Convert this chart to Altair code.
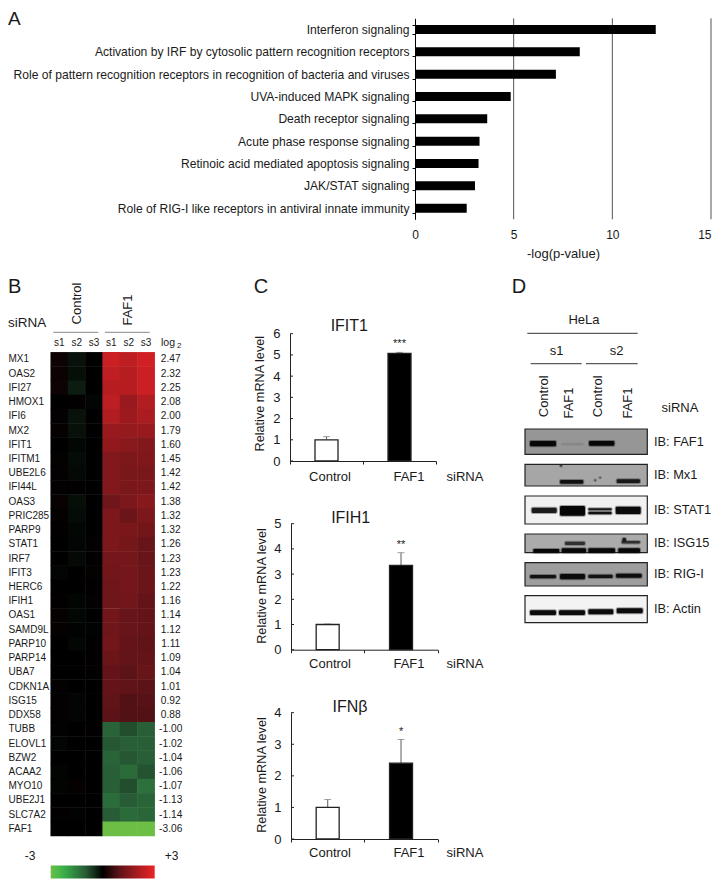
import altair as alt
import pandas as pd

FONT = "Liberation Sans"
W, H = 704, 871
INK = "#1a1a1a"

# ---------- Panel A ----------
path_names = ["Interferon signaling",
              "Activation by IRF by cytosolic pattern recognition receptors",
              "Role of pattern recognition receptors in recognition of bacteria and viruses",
              "UVA-induced MAPK signaling", "Death receptor signaling",
              "Acute phase response signaling", "Retinoic acid mediated apoptosis signaling",
              "JAK/STAT signaling", "Role of RIG-I like receptors in antiviral innate immunity"]
path_vals = [12.2, 8.35, 7.14, 4.85, 3.66, 3.27, 3.22, 3.04, 2.62]
a_ticks = [0, 5, 10, 15]
a_grid = [5, 10, 15]

# ---------- Panel B ----------
genes = ["MX1", "OAS2", "IFI27", "HMOX1", "IFI6", "MX2", "IFIT1", "IFITM1", "UBE2L6", "IFI44L",
         "OAS3", "PRIC285", "PARP9", "STAT1", "IRF7", "IFIT3", "HERC6", "IFIH1", "OAS1", "SAMD9L",
         "PARP10", "PARP14", "UBA7", "CDKN1A", "ISG15", "DDX58", "TUBB", "ELOVL1", "BZW2", "ACAA2",
         "MYO10", "UBE2J1", "SLC7A2", "FAF1"]
log2_vals = [2.47, 2.32, 2.25, 2.08, 2.00, 1.79, 1.60, 1.45, 1.42, 1.42, 1.38, 1.32, 1.32, 1.26, 1.23,
             1.23, 1.22, 1.16, 1.14, 1.12, 1.11, 1.09, 1.04, 1.01, 0.92, 0.88, -1.00, -1.02, -1.04,
             -1.06, -1.07, -1.13, -1.14, -3.06]
ctrl_s1 = [.15, .12, .15, 0, .03, .05, 0, .04, .03, .03, .08, .04, .02, 0, 0, -.05, 0, .02, .06, .05,
           0, 0, 0, .03, .03, .03, -.02, -.05, 0, -.04, -.04, 0, .02, 0]
ctrl_s2 = [-.2, -.15, -.3, .02, -.2, -.18, -.08, -.12, -.1, .02, -.15, -.12, -.08, -.05, -.1, 0, 0, -.06,
           -.08, -.03, -.08, 0, 0, 0, -.05, -.05, 0, 0, 0, 0, .05, 0, -.03, 0]
ctrl_s3 = [0, 0, 0, -.05, 0, 0, 0, 0, 0, 0, 0, 0, 0, .03, .02, .04, .02, .03, 0, -.03,
           .02, .02, .03, 0, 0, 0, .02, 0, 0, 0, 0, 0, 0, 0]
faf_s1 = [2.5, 2.35, 2.2, 2.3, 2.15, 1.8, 1.7, 1.5, 1.5, 1.5, 1.2, 1.4, 1.4, 1.4, 1.3, 1.25, 1.2, 1.2,
          1.25, 1.2, 1.25, 1.15, 1.05, 1.05, 1.0, .95, -1.1, -.95, -1.1, -1.05, -1.05, -1.25, -1.0, -3.0]
faf_s2 = [2.3, 2.2, 2.2, 1.8, 1.85, 1.75, 1.6, 1.4, 1.35, 1.35, 1.4, 1.15, 1.35, 1.3, 1.3, 1.3, 1.3, 1.25,
          1.1, 1.1, 1.05, 1.05, .95, 1.0, .85, .85, -.85, -1.05, -.95, -1.2, -.85, -1.0, -1.2, -3.0]
faf_s3 = [2.6, 2.5, 2.5, 2.15, 2.05, 1.8, 1.5, 1.45, 1.35, 1.4, 1.55, 1.4, 1.25, 1.1, 1.1, 1.15, 1.15, 1.05,
          1.05, 1.05, 1.0, 1.05, 1.1, .95, .9, .85, -1.05, -1.05, -1.05, -.9, -1.3, -1.1, -1.15, -3.0]
sample_ids = ["Cs1", "Cs2", "Cs3", "Fs1", "Fs2", "Fs3"]
sample_cols = [ctrl_s1, ctrl_s2, ctrl_s3, faf_s1, faf_s2, faf_s3]
heat_stops = [-3, -2.3, -1, 0, 1, 3]
heat_colors = ["#6cbe45", "#39b54a", "#285c36", "#000000", "#601418", "#ed2327"]

# ---------- Panel C ----------
cats = ["Control", "FAF1"]
ifit1_val, ifit1_top = [1.0, 5.07], [1.15, 5.12]
ifih1_val, ifih1_top = [1.0, 3.35], [1.02, 3.85]
ifnb_val, ifnb_top = [1.0, 2.4], [1.25, 3.15]

# ---------- Panel D (gel coordinates, read from the blots) ----------
blot_names = ["FAF1", "Mx1", "STAT1", "ISG15", "RIG-I", "Actin"]
blot_top = [429, 464.3, 496, 534, 562.7, 595.7]
blot_bottom = [454.3, 486, 524, 552.7, 586, 622.7]
blot_shade = [.62, .68, .95, .70, .65, .96]
band_x0 = [530, 561.7, 589, 560, 616.7, 560.2, 594.5, 599.5, 531.7, 560, 588.3, 588.3, 615.7,
           533.3, 561.7, 588.3, 618.3, 565, 621.7, 622.5, 530, 560, 588.3, 616, 530, 559, 588.3, 616.7]
band_x1 = [556, 583.3, 614.3, 583.3, 640, 561.8, 595.8, 600.7, 556.7, 585, 611.7, 611.7, 640.7,
           559.3, 586, 615, 640, 585, 640, 626, 556, 585, 612.7, 641.7, 556, 585, 613.3, 642.7]
band_y0 = [441, 443.3, 441, 480, 479.3, 465, 479.5, 477, 507.7, 506, 508.3, 511.7, 506.7,
           549, 548.3, 548.3, 548.3, 541.7, 541, 538, 575, 574, 574.7, 573.7, 610.3, 610.3, 609.3, 608.3]
band_y1 = [446.3, 445, 445.7, 483.7, 483, 466.6, 481, 478.2, 513, 515.7, 510.3, 514.3, 514,
           552.7, 552.7, 552.7, 552.7, 545, 543.5, 542, 578.3, 579.3, 578, 577.7, 615, 615, 614.3, 613.3]
band_shade = [.02, .56, .02, .05, .08, .1, .2, .2, .1, .02, .08, .05, .03,
              .02, .02, .02, .02, .2, .2, .1, .05, .03, .06, .04, .03, .03, .03, .03]

# ---------- helpers ----------
one = alt.Data(values=[{"n": 0}])


def T(s, x, y, size=13, angle=0, align="center", color=INK):
    return alt.Chart(one).mark_text(text=s, font=FONT, fontSize=size, angle=angle, align=align,
                                    baseline="middle", color=color).encode(
        x=alt.value(x - 8), y=alt.value(y - 8))


def L(x0, x1, y, color="#555555"):
    return alt.Chart(one).mark_rule(color=color, strokeWidth=1).encode(
        x=alt.value(x0 - 8), x2=alt.value(x1 - 8), y=alt.value(y - 8))


# ---------- Panel A ----------
ax0, ax1, ay0, ay1 = 415, 711, 18.3, 219.3
a_df = pd.DataFrame({"path": path_names, "v": path_vals})
a_x = alt.Scale(domain=[0, 15], range=[ax0 - 8, ax1 - 8], nice=False)
a_y = alt.Scale(domain=path_names, range=[ay0 - 8, ay1 - 8], paddingInner=0.6, paddingOuter=0.3)
a_x_axis = alt.Axis(
    orient="bottom", offset=(ay1 - 8) - H, values=a_ticks, format="d", domain=False, ticks=False, tickSize=0,
    grid=False, labelPadding=10, labelFont=FONT, labelFontSize=12, labelColor=INK, labelFlush=False,
    labelAlign={"condition": {"test": "datum.value == 15", "value": "right"}, "value": "center"},
    title="-log(p-value)", titleFont=FONT, titleFontSize=13, titleFontWeight="normal", titleColor=INK,
    titlePadding=7)
a_grid_layer = alt.Chart(pd.DataFrame({"g": a_grid})).mark_rule(color="#555555", strokeWidth=1).encode(
    x=alt.X("g:Q", scale=a_x, axis=a_x_axis),
    y=alt.value(ay0 - 8), y2=alt.value(ay1 - 8))
a_bars = alt.Chart(a_df).mark_bar(color="#000000", size=9).encode(
    x=alt.X("v:Q", scale=a_x, axis=a_x_axis),
    y=alt.Y("path:N", sort=path_names, scale=a_y, axis=alt.Axis(
        orient="left", offset=-(ax0 - 8), title=None, tickBand="extent", tickSize=3, tickColor="#000000",
        domainColor="#000000", labelPadding=3, labelFont=FONT, labelFontSize=12.1, labelColor=INK,
        labelLimit=500, grid=False)))
panel_a = alt.layer(a_grid_layer, a_bars)

# ---------- Panel B ----------
hx0, hx1, hy0, hy1 = 50.7, 154.7, 352.3, 836
rows = []
for sid, col in zip(sample_ids, sample_cols):
    for g, v in zip(genes, col):
        rows.append({"sample": sid, "gene": g, "v": v})
h_x = alt.Scale(domain=sample_ids, range=[hx0 - 8, hx1 - 8], paddingInner=0, paddingOuter=0)
h_y = alt.Scale(domain=genes, range=[hy0 - 8, hy1 - 8], paddingInner=0, paddingOuter=0)
h_c = alt.Scale(domain=heat_stops, range=heat_colors, interpolate="rgb")
h_y_axis = alt.Axis(
    orient="left", offset=-(hx0 - 8), title=None, domain=False, ticks=False, tickSize=0,
    labelAlign="left", labelPadding=hx0 - 8, labelFont=FONT, labelFontSize=10, labelColor=INK, grid=False)
heat = alt.Chart(pd.DataFrame(rows)).mark_rect(width=17.8, height=14.7).encode(
    x=alt.X("sample:N", sort=sample_ids, scale=h_x, axis=None),
    y=alt.Y("gene:N", sort=genes, scale=h_y, axis=h_y_axis),
    color=alt.Color("v:Q", scale=h_c, legend=alt.Legend(
        orient="none", legendX=hx0 - 8, legendY=857.5, direction="horizontal", gradientLength=hx1 - hx0,
        gradientThickness=13, title=None, values=[], gradientStrokeWidth=0)))
heat_lab = alt.Chart(pd.DataFrame({"sample": sample_ids, "s": [s[1:] for s in sample_ids]})).mark_text(
    font=FONT, fontSize=10, color=INK, baseline="middle").encode(
    x=alt.X("sample:N", sort=sample_ids, scale=h_x, axis=None),
    y=alt.value(343.3 - 8), text="s:N")
heat_val = alt.Chart(pd.DataFrame({"gene": genes, "l": [f"{v:.2f}" for v in log2_vals]})).mark_text(
    font=FONT, fontSize=10.2, color=INK, baseline="middle").encode(
    x=alt.value(170.7 - 8),
    y=alt.Y("gene:N", sort=genes, scale=h_y, axis=h_y_axis),
    text="l:N")
panel_b = alt.layer(heat, heat_lab, heat_val)


# ---------- Panel C ----------
def bar_panel(vals, tops, stars, ymax, x0, x1, y0, y1):
    df = pd.DataFrame({"cat": cats, "v": vals, "top": tops})
    star_df = pd.DataFrame({"cat": cats[1:], "top": tops[1:], "star": [stars]})
    sx = alt.Scale(domain=cats, range=[x0 - 8, x1 - 8], paddingInner=0, paddingOuter=0)
    sy = alt.Scale(domain=[0, ymax], range=[y0 - 8, y1 - 8], nice=False)
    x_axis = alt.Axis(
        orient="bottom", offset=(y0 - 8) - H, title=None, labels=False, tickBand="extent", tickSize=3,
        tickColor="#222222", domainColor="#222222", grid=False)
    y_axis = alt.Axis(
        orient="left", offset=-(x0 - 8), values=list(range(ymax + 1)), format="d", ticks=False, tickSize=0,
        domainColor="#222222", labelPadding=10, labelFont=FONT, labelFontSize=13, labelColor=INK, grid=False,
        title=None)
    X = alt.X("cat:N", sort=cats, scale=sx, axis=x_axis)
    err = alt.Chart(df).mark_rule(color="#777777", strokeWidth=1.2).encode(
        x=X, y=alt.Y("v:Q", scale=sy, axis=y_axis), y2="top:Q")
    cap = alt.Chart(df).mark_tick(color="#777777", size=7, thickness=1).encode(
        x=X, y=alt.Y("top:Q", scale=sy, axis=y_axis))
    bars = alt.Chart(df).mark_bar(size=23, stroke="#222222", strokeWidth=1.3).encode(
        x=X, y=alt.Y("v:Q", scale=sy, axis=y_axis),
        color=alt.Color("cat:N", scale=alt.Scale(domain=cats, range=["#ffffff", "#000000"]), legend=None))
    tk = alt.Chart(pd.DataFrame({"t": list(range(ymax + 1))})).mark_rule(color="#222222").encode(
        x=alt.value(x0 - 8), x2=alt.value(x0 - 5), y=alt.Y("t:Q", scale=sy, axis=y_axis))
    st = alt.Chart(star_df).mark_text(font=FONT, fontSize=11, dy=-8, color=INK, baseline="middle").encode(
        x=X, y=alt.Y("top:Q", scale=sy, axis=y_axis), text="star:N")
    return alt.layer(err, cap, bars, tk, st)


panel_c1 = bar_panel(ifit1_val, ifit1_top, "***", 6, 290, 436, 461, 333.7)
panel_c2 = bar_panel(ifih1_val, ifih1_top, "**", 5, 291, 437.7, 649.7, 523.7)
panel_c3 = bar_panel(ifnb_val, ifnb_top, "*", 4, 291, 437.7, 839, 712.7)

# ---------- Panel D ----------
gx0, gx1 = 525, 647.3
gy0, gy1 = 429, 622.7
g_x = alt.Scale(domain=[gx0, gx1], range=[gx0 - 8, gx1 - 8], nice=False, zero=False)
g_y = alt.Scale(domain=[gy0, gy1], range=[gy0 - 8, gy1 - 8], nice=False, zero=False)
g_c = alt.Scale(domain=[0, 1], range=["#000000", "#ffffff"])
blot_df = pd.DataFrame({"x0": [gx0] * 6, "x1": [gx1] * 6, "y0": blot_top, "y1": blot_bottom, "s": blot_shade})
band_df = pd.DataFrame({"x0": band_x0, "x1": band_x1, "y0": band_y0, "y1": band_y1, "s": band_shade})
halo_df = band_df.assign(x0=band_df.x0 - 1, x1=band_df.x1 + 1, y0=band_df.y0 - 1, y1=band_df.y1 + 1)


def gel(df, **kw):
    return alt.Chart(df).mark_rect(**kw).encode(
        x=alt.X("x0:Q", scale=g_x, axis=None), x2="x1:Q",
        y=alt.Y("y0:Q", scale=g_y, axis=None), y2="y1:Q",
        color=alt.Color("s:Q", scale=g_c, legend=None))


panel_d = alt.layer(gel(blot_df, stroke="#222222", strokeWidth=1.2),
                    gel(halo_df, opacity=0.35, cornerRadius=2),
                    gel(band_df, cornerRadius=1.5))

# ---------- text and rules ----------
notes = [
    T("A", 8, 18.5, 19, align="left"), T("B", 8, 287, 20, align="left"),
    T("C", 261, 287, 20), T("D", 519, 287, 20),
    T("siRNA", 8, 323.3, 13.5, align="left"),
    T("Control", 76.7, 303.5, 13, angle=270), T("FAF1", 127.7, 310, 13, angle=270),
    L(53.3, 98.3, 332.3, "#888888"), L(105, 149.7, 332.3, "#888888"),
    T("log", 161, 343.3, 10.5, align="left"), T("2", 177, 346, 8, align="left"),
    T("-3", 30, 855.7, 12), T("+3", 171.7, 855.7, 12),
    T("IFIT1", 349.3, 325.7, 16), T("IFIH1", 350.7, 518.3, 16), T("IFNβ", 350, 707.3, 16),
    T("Relative mRNA level", 260, 393.7, 12.7, angle=270),
    T("Relative mRNA level", 262, 586, 12.7, angle=270),
    T("Relative mRNA level", 262, 775, 12.7, angle=270),
]
for yy in (476.7, 663.7, 853.3):
    notes += [T("Control", 330, yy, 13), T("FAF1", 409, yy, 13), T("siRNA", 465, yy, 13)]
notes += [
    T("HeLa", 584, 320, 13), L(527.3, 637.7, 333.3, "#333333"),
    T("s1", 556.7, 351, 13), T("s2", 616.7, 351, 13),
    L(530.7, 581.7, 363.7, "#333333"), L(586, 637.7, 363.7, "#333333"),
    T("Control", 544.3, 396.3, 13, angle=270), T("FAF1", 569, 403, 13, angle=270),
    T("Control", 598.3, 396.3, 13, angle=270), T("FAF1", 627.7, 403, 13, angle=270),
    T("siRNA", 680, 408.3, 13),
]
for nm, t, b in zip(blot_names, blot_top, blot_bottom):
    notes.append(T("IB: " + nm, 654, (t + b) / 2, 12.8, align="left"))

chart = alt.layer(panel_a, panel_b, panel_c1, panel_c2, panel_c3, panel_d, *notes).resolve_scale(
    x="independent", y="independent", color="independent"
).properties(
    width=W, height=H, padding=0, autosize=alt.AutoSizeParams(type="none"), background="#ffffff"
).configure_view(stroke=None)

chart.save("out.html", embed_options={"renderer": "svg", "actions": False})
